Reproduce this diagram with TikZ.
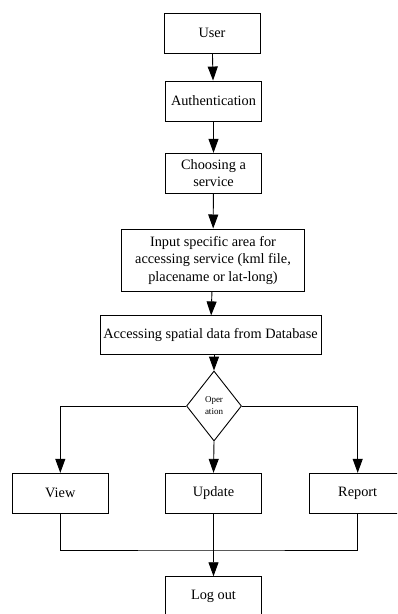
\documentclass[tikz,border=0pt]{standalone}
\usepackage{fontspec}
\setmainfont{Liberation Serif}
\usetikzlibrary{arrows.meta,shapes.geometric}
\begin{document}
\begin{tikzpicture}[x=1pt,y=-1pt,
  box/.style={draw=black,line width=0.9pt,fill=white,inner sep=0pt,align=center,
    font=\fontsize{14.3}{17.5}\selectfont},
  decision/.style={draw=black,line width=0.9pt,diamond,inner sep=0pt,align=center,
    minimum width=55pt,minimum height=70pt,font=\fontsize{9}{12}\selectfont},
  link/.style={draw=black,line width=0.9pt},
  arr/.style={link,-{Triangle[length=14pt,width=10pt]}}]
\useasboundingbox (0,0) rectangle (397,614);
\clip (0,0) rectangle (397,614);

% process boxes
\node[box,minimum width=96pt,minimum height=40pt] (user) at (212,33) {User};
\node[box,minimum width=96pt,minimum height=40pt] (auth) at (213.5,101) {Authentication};
\node[box,minimum width=96pt,minimum height=40pt] (choose) at (213.5,173.3) {Choosing a\\service};
\node[box,minimum width=182.6pt,minimum height=62.7pt] (input) at (213,260.3)
  {Input specific area for\\accessing service (kml file,\\placename or lat-long)};
\node[box,minimum width=221pt,minimum height=38.3pt] (access) at (210.5,335)
  {Accessing spatial data from Database};
\node[decision] (op) at (214,406) {Oper\\ation};
\node[box,minimum width=96pt,minimum height=40pt] (view) at (60.3,493.3) {View};
\node[box,minimum width=95.6pt,minimum height=40pt] (update) at (213.5,493.3) {Update};
\node[box,minimum width=96.8pt,minimum height=40pt] (report) at (357.7,493.3) {Report};
\node[box,minimum width=95.6pt,minimum height=40pt] (logout) at (213.5,596.7) {Log out};
\coordinate (join) at (213.5,550);

% main flow
\draw[arr] (user) -- (auth);
\draw[arr] (auth) -- (choose);
\draw[arr] (choose) -- (input);
\draw[arr] (input) -- (access);
\draw[arr] (access.south -| op.north) -- (op.north);

% branches of the decision
\draw[arr] (op.west) -| (view.north);
\draw[arr] (op.east) -| (report.north);
\draw[arr] (op.south) -- (update.north);

% merge to log out
\draw[link] (view.south) |- (join) -| (report.south);
\draw[arr] (update.south) -- (logout.north);
\end{tikzpicture}
\end{document}
